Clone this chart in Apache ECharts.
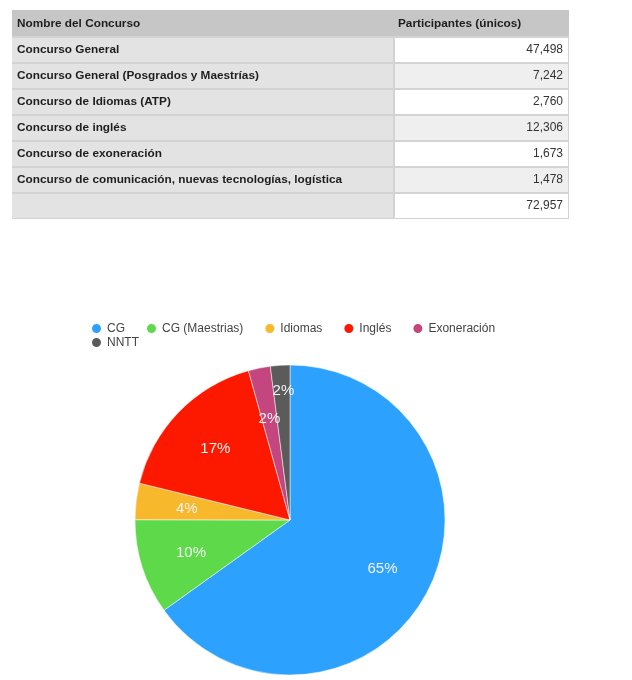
<!DOCTYPE html>
<html>
<head>
<meta charset="utf-8">
<script src="https://cdn.jsdelivr.net/npm/echarts@6/dist/echarts.min.js"></script>
<style>
html,body{margin:0;padding:0;background:#fff;}
#chart{width:632px;height:680px;}
</style>
</head>
<body>
<div id="chart"></div>
<script>
// ---- Data ----
const tableHeaders = ['Nombre del Concurso', 'Participantes (únicos)'];
const concursos = [
  'Concurso General',
  'Concurso General (Posgrados y Maestrías)',
  'Concurso de Idiomas (ATP)',
  'Concurso de inglés',
  'Concurso de exoneración',
  'Concurso de comunicación, nuevas tecnologías, logística'
];
const participantes = [47498, 7242, 2760, 12306, 1673, 1478];
const pieCategories = ['CG', 'CG (Maestrias)', 'Idiomas', 'Inglés', 'Exoneración', 'NNTT'];
const pieColors = ['#2ca1fe', '#5dd94a', '#f7b82b', '#fd1800', '#c4467f', '#5b5b5b'];

// ---- Table built as graphic elements ----
const FONT = '"Liberation Sans", Arial, Helvetica, sans-serif';
const tx0 = 12, txDiv = 394, tx1 = 569, tyTop = 10, headH = 27, rowH = 26;
const fmt = v => v.toLocaleString('en-US');
const total = participantes.reduce((a, b) => a + b, 0);
const rows = concursos.map((c, i) => [c, fmt(participantes[i])]);
rows.push(['', fmt(total)]);

const graphics = [];
const tableBottom = tyTop + headH + rows.length * rowH;
graphics.push({type: 'rect', shape: {x: tx0, y: tyTop, width: tx1 - tx0, height: tableBottom - tyTop}, style: {fill: '#d3d3d3'}, silent: true});
graphics.push({type: 'rect', shape: {x: tx0, y: tyTop, width: tx1 - tx0, height: headH - 1}, style: {fill: '#c6c6c6'}, silent: true});
graphics.push({type: 'text', x: tx0 + 5, y: tyTop + headH / 2, style: {text: tableHeaders[0], font: 'bold 11.8px ' + FONT, fill: '#1e1e1e', verticalAlign: 'middle'}, silent: true});
graphics.push({type: 'text', x: txDiv + 4, y: tyTop + headH / 2, style: {text: tableHeaders[1], font: 'bold 11.8px ' + FONT, fill: '#1e1e1e', verticalAlign: 'middle'}, silent: true});
rows.forEach((r, i) => {
  const y = tyTop + headH + i * rowH;
  graphics.push({type: 'rect', shape: {x: tx0, y: y + 1, width: txDiv - tx0 - 1, height: rowH - 2}, style: {fill: '#e3e3e3'}, silent: true});
  graphics.push({type: 'rect', shape: {x: txDiv + 1, y: y + 1, width: tx1 - txDiv - 2, height: rowH - 2}, style: {fill: i % 2 === 0 ? '#ffffff' : '#efefef'}, silent: true});
  if (r[0]) graphics.push({type: 'text', x: tx0 + 5, y: y + rowH / 2, style: {text: r[0], font: 'bold 11.8px ' + FONT, fill: '#1e1e1e', verticalAlign: 'middle'}, silent: true});
  graphics.push({type: 'text', x: tx1 - 6, y: y + rowH / 2, style: {text: r[1], font: '12px ' + FONT, fill: '#333', align: 'right', verticalAlign: 'middle'}, silent: true});
});

// ---- Pie ----
const pieData = pieCategories.map((n, i) => ({name: n, value: participantes[i], itemStyle: {color: pieColors[i]}}));
const labelData = pieCategories.map((n, i) => {
  const d = {name: n, value: participantes[i]};
  // last (smallest) slice label is lifted outward to avoid overlapping its neighbour
  if (i === pieCategories.length - 1) d.label = {formatter: '{d}%\n ', lineHeight: 52};
  return d;
});

const chart = echarts.init(document.getElementById('chart'), null, {renderer: 'canvas'});
chart.setOption({
  animation: false,
  backgroundColor: '#ffffff',
  textStyle: {fontFamily: FONT},
  graphic: graphics,
  legend: [{
    data: pieCategories.slice(0, 5),
    left: 85, top: 317,
    icon: 'circle', itemWidth: 11, itemHeight: 11, itemGap: 20,
    textStyle: {fontSize: 12, color: '#444', fontFamily: FONT}
  }, {
    data: pieCategories.slice(5),
    left: 85, top: 331,
    icon: 'circle', itemWidth: 11, itemHeight: 11,
    textStyle: {fontSize: 12, color: '#444', fontFamily: FONT}
  }],
  series: [{
    type: 'pie',
    center: [290, 520],
    radius: [0, 155],
    startAngle: 90,
    clockwise: true,
    label: {show: false},
    labelLine: {show: false},
    itemStyle: {borderColor: '#ffffff', borderWidth: 0.5},
    emphasis: {disabled: true},
    data: pieData
  }, {
    type: 'pie',
    center: [290, 521],
    radius: [0, 202],
    startAngle: 90,
    clockwise: true,
    silent: true,
    avoidLabelOverlap: false,
    labelLayout: {hideOverlap: false},
    percentPrecision: 0,
    itemStyle: {color: 'rgba(0,0,0,0)'},
    label: {show: true, position: 'inside', formatter: '{d}%', color: '#f3f3f3', fontSize: 15, fontFamily: FONT},
    labelLine: {show: false},
    emphasis: {disabled: true},
    data: labelData
  }]
});
</script>
</body>
</html>
